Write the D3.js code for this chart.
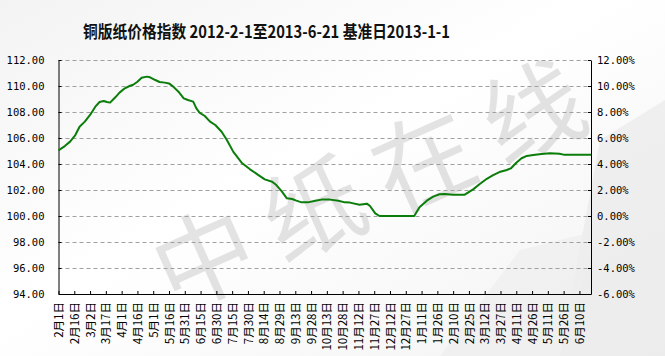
<!DOCTYPE html>
<html><head><meta charset="utf-8">
<script src="https://cdn.jsdelivr.net/npm/d3@7"></script>
<style>body{margin:0;background:#fff} svg{display:block}</style>
</head><body><svg id="c" width="665" height="356"></svg>
<script>
const title = "铜版纸价格指数 2012-2-1至2013-6-21 基准日2013-1-1";
const watermark = "中纸在线";
const dates = ["2012-02-01","2012-02-07","2012-02-12","2012-02-17","2012-02-21","2012-02-26","2012-03-02","2012-03-07","2012-03-11","2012-03-15","2012-03-18","2012-03-21","2012-03-26","2012-03-30","2012-04-04","2012-04-09","2012-04-12","2012-04-16","2012-04-20","2012-04-25","2012-04-28","2012-05-03","2012-05-07","2012-05-12","2012-05-16","2012-05-20","2012-05-25","2012-05-30","2012-06-03","2012-06-08","2012-06-11","2012-06-14","2012-06-19","2012-06-24","2012-06-29","2012-07-05","2012-07-10","2012-07-16","2012-07-24","2012-08-01","2012-08-09","2012-08-15","2012-08-22","2012-08-26","2012-08-31","2012-09-05","2012-09-10","2012-09-14","2012-09-19","2012-09-25","2012-10-02","2012-10-08","2012-10-16","2012-10-24","2012-10-30","2012-11-04","2012-11-13","2012-11-20","2012-11-23","2012-11-28","2012-12-02","2012-12-12","2012-12-24","2013-01-04","2013-01-09","2013-01-16","2013-01-22","2013-01-28","2013-02-02","2013-02-10","2013-02-21","2013-03-01","2013-03-07","2013-03-14","2013-03-20","2013-03-26","2013-04-02","2013-04-06","2013-04-11","2013-04-16","2013-04-21","2013-04-27","2013-05-05","2013-05-13","2013-05-22","2013-05-26","2013-06-21"];
const values = [105.05,105.38,105.72,106.23,106.87,107.26,107.77,108.41,108.77,108.85,108.77,108.72,109.13,109.49,109.82,110.02,110.10,110.33,110.64,110.72,110.67,110.46,110.31,110.26,110.20,109.95,109.56,109.05,108.92,108.80,108.28,107.95,107.69,107.26,107.00,106.48,105.85,104.95,104.10,103.59,103.15,102.82,102.64,102.38,101.92,101.36,101.31,101.18,101.05,101.05,101.18,101.26,101.26,101.18,101.05,101.03,100.87,100.95,100.77,100.20,100.00,100.00,100.00,100.00,100.67,101.18,101.49,101.67,101.70,101.64,101.64,102.05,102.44,102.86,103.15,103.38,103.54,103.67,104.10,104.44,104.62,104.69,104.77,104.82,104.79,104.72,104.72];
const leftTicks = [94,96,98,100,102,104,106,108,110,112];
const rightTicks = [-6,-4,-2,0,2,4,6,8,10,12];
const xTickDates = ["2012-02-01","2012-02-16","2012-03-02","2012-03-17","2012-04-01","2012-04-16","2012-05-01","2012-05-16","2012-05-31","2012-06-15","2012-06-30","2012-07-15","2012-07-30","2012-08-14","2012-08-29","2012-09-13","2012-09-28","2012-10-13","2012-10-28","2012-11-12","2012-11-27","2012-12-12","2012-12-27","2013-01-11","2013-01-26","2013-02-10","2013-02-25","2013-03-12","2013-03-27","2013-04-11","2013-04-26","2013-05-11","2013-05-26","2013-06-10"];
const xDomain = ["2012-02-01","2013-06-21"];

const parse = d3.timeParse("%Y-%m-%d");
const fmtX = d3.timeFormat("%-m月%-d日");
const svg = d3.select("#c");
const L = 58.5, R = 591, T = 60, B = 294;

// background
const defs = svg.append("defs");
const g1 = defs.append("linearGradient").attr("id","bg").attr("x1",0).attr("y1",0).attr("x2",1).attr("y2",1);
g1.append("stop").attr("offset","0%").attr("stop-color","#f3f3f3");
g1.append("stop").attr("offset","45%").attr("stop-color","#ffffff");
g1.append("stop").attr("offset","100%").attr("stop-color","#f2f2f2");
svg.append("rect").attr("width",665).attr("height",356).attr("fill","url(#bg)");
svg.append("path").attr("d","M600,140 L665,100 L665,356 L560,356 Z").attr("fill","#e9e9e9").attr("opacity",0.7);
svg.append("path").attr("d","M440,356 L520,250 L600,230 L560,356 Z").attr("fill","#eeeeee").attr("opacity",0.7);

// watermark
svg.append("text").text(watermark)
  .attr("transform","translate(375,175) rotate(-24)")
  .attr("text-anchor","middle").attr("dominant-baseline","central")
  .style("font-family","'Noto Sans CJK SC'").style("font-size","100px")
  .style("letter-spacing","20px")
  .attr("fill","#000").attr("opacity",0.1);

const x = d3.scaleTime().domain(xDomain.map(parse)).range([L,R]);
const y = d3.scaleLinear().domain([94,112]).range([B,T]);
const yR = d3.scaleLinear().domain([-6,12]).range([B,T]);

// grid
svg.append("g").selectAll("line").data(leftTicks.filter(d=>d!==94)).join("line")
  .attr("x1",L).attr("x2",R).attr("y1",d=>Math.round(y(d))+0.5).attr("y2",d=>Math.round(y(d))+0.5)
  .attr("stroke","#a0a0a0").attr("stroke-dasharray","4,3");

const axisFont = "'DejaVu Sans Mono', monospace";
const gl = svg.append("g").attr("transform",`translate(${L},0)`)
  .call(d3.axisLeft(y).tickValues(leftTicks).tickFormat(d3.format(".2f")).tickSize(-3).tickSizeOuter(0).tickPadding(14));
const gr = svg.append("g").attr("transform",`translate(${R},0)`)
  .call(d3.axisRight(yR).tickValues(rightTicks).tickFormat(d=>d.toFixed(2)+"%").tickSize(-3).tickSizeOuter(0).tickPadding(6));
const gb = svg.append("g").attr("transform",`translate(0,${B})`)
  .call(d3.axisBottom(x).tickValues(xTickDates.map(parse)).tickFormat(fmtX).tickSize(-3).tickSizeOuter(0));
[gl,gr].forEach(g=>g.selectAll("text").style("font-family",axisFont).style("font-size","10.5px").attr("fill","#000"));
gb.selectAll("text").attr("transform","rotate(-90)").attr("x",-8).attr("y",0).attr("dy","0.36em")
  .style("text-anchor","end").style("font-family","'Noto Sans CJK SC'").style("font-size","11.5px").attr("fill","#000");
[gl,gr,gb].forEach(g=>{g.select(".domain").attr("stroke","#000"); g.selectAll(".tick line").attr("stroke","#000");});

// line
const data = dates.map((d,i)=>({date:parse(d), v:values[i]}));
svg.append("path").datum(data)
  .attr("fill","none").attr("stroke","#0b7d0b").attr("stroke-width",2).attr("stroke-linejoin","round")
  .attr("d", d3.line().x(d=>x(d.date)).y(d=>y(d.v)));

// title
svg.append("text").text(title).attr("x",83).attr("y",38)
  .attr("textLength",367).attr("lengthAdjust","spacingAndGlyphs")
  .style("font-family","'Noto Sans CJK SC'").style("font-size","17px").style("font-weight","bold").attr("fill","#111");
</script></body></html>
